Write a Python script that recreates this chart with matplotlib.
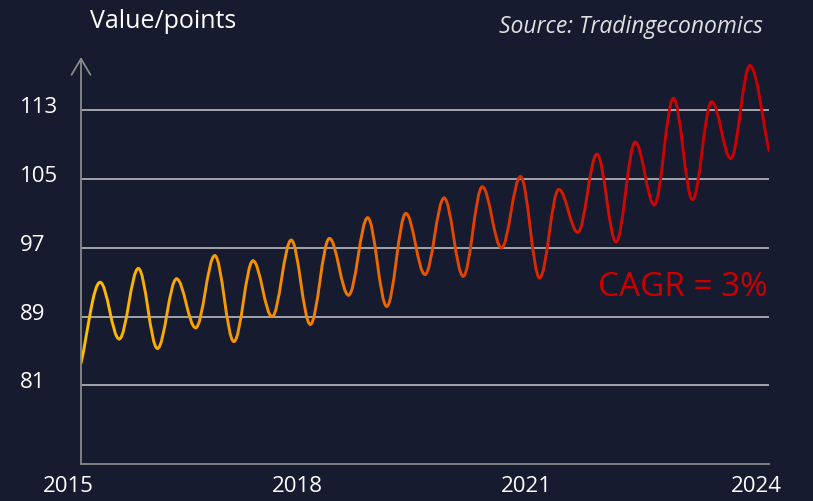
#! /usr/bin/env python

# Seasonal index 2015-2024, dark theme with a yellow-to-red gradient line

import matplotlib
matplotlib.use('Agg')
import matplotlib.pyplot as plt
import matplotlib.transforms as mtransforms
from matplotlib.colors import LinearSegmentedColormap
from matplotlib.path import Path
from matplotlib.patches import PathPatch
import pandas as pd

# Data (quarterly turning points)
dates = pd.date_range('2015-01-01', '2024-01-01', freq='3MS')
values = [83.6, 93.0, 86.4, 94.6, 85.3, 93.4, 87.7, 96.1, 86.1, 95.5,
          89.0, 97.9, 88.1, 98.1, 91.5, 100.5, 90.2, 101.0, 93.9, 102.8,
          93.7, 104.1, 97.0, 105.3, 93.5, 103.8, 98.8, 107.9, 97.7, 109.3,
          102.0, 114.4, 102.6, 114.0, 107.4, 118.2, 108.3]
y_ticks = [81, 89, 97, 105, 113]
x_ticks = [2015, 2018, 2021, 2024]

BG = '#161b2f'
GRID = '#c9c9c9'
AXIS = '#8a8a8a'
TEXT = '#ffffff'

plt.rcParams['font.family'] = ['Open Sans', 'DejaVu Sans']

cmap = LinearSegmentedColormap.from_list(
    'heat', [(0.0, '#ffbf00'), (0.33, '#f28500'), (0.5, '#e65500'),
             (0.65, '#d82a00'), (0.8, '#cc0505'), (1.0, '#cc0000')])

x = [d.year + (d.month - 1) / 12 for d in dates]

fig = plt.figure(figsize=(8.13, 5.01), dpi=100, facecolor=BG)
ax = fig.add_axes([81 / 813, 37 / 501, 688 / 813, 407 / 501])
ax.set_facecolor(BG)
ax.set_xlim(2015, 2024)
ax.set_ylim(71.86, 119.2)

# grid lines
for v in y_ticks:
    ax.axhline(v, color=GRID, lw=1.1, zorder=1)

# smooth line: one bezier piece between each pair of turning points
n = len(x)
for i in range(n - 1):
    x0, y0, x1, y1 = x[i], values[i], x[i + 1], values[i + 1]
    dx = x1 - x0
    if i == 0:
        c1 = (x0 + dx / 3, y0 + (y1 - y0) / 3)
    else:
        c1 = (x0 + 0.363 * dx, y0)
    if i == n - 2:
        c2 = (x1 - dx / 3, y1 - (y1 - y0) / 3)
    else:
        c2 = (x1 - 0.363 * dx, y1)
    path = Path([(x0, y0), c1, c2, (x1, y1)],
                [Path.MOVETO, Path.CURVE4, Path.CURVE4, Path.CURVE4])
    col = cmap(((x0 + x1) / 2 - x[0]) / (x[-1] - x[0]))
    ax.add_patch(PathPatch(path, fill=False, edgecolor=col, lw=2.1,
                           capstyle='round', joinstyle='round', zorder=3))

# axes: bottom line and y arrow
for s in ['top', 'right', 'left']:
    ax.spines[s].set_visible(False)
ax.spines['bottom'].set_color(AXIS)
ax.spines['bottom'].set_linewidth(1.3)
ax.annotate('', xy=(0, 1), xytext=(0, 0), xycoords='axes fraction',
            arrowprops=dict(arrowstyle='->,head_length=1.15,head_width=0.68',
                            color=AXIS, lw=1.3, shrinkA=0, shrinkB=0))

# ticks
ax.set_yticks(y_ticks)
ax.set_yticklabels([str(v) for v in y_ticks])
ax.set_xticks(x_ticks)
ax.set_xticklabels([str(v) for v in x_ticks])
ax.tick_params(axis='both', length=0, colors=TEXT, labelsize=16)
ax.tick_params(axis='y', pad=44)
ax.tick_params(axis='x', pad=9)
for lab in ax.get_yticklabels():
    lab.set_horizontalalignment('left')
    lab.set_transform(lab.get_transform() +
                      mtransforms.ScaledTranslation(0, 5 / 100, fig.dpi_scale_trans))
for lab in ax.get_xticklabels():
    lab.set_transform(lab.get_transform() +
                      mtransforms.ScaledTranslation(-13 / 100, 0, fig.dpi_scale_trans))

# texts
fig.text(90 / 813, 1 - 22 / 501, 'Value/points', color=TEXT, fontsize=18,
         ha='left', va='center')
fig.text(763 / 813, 1 - 27 / 501, 'Source: Tradingeconomics', color='#e0e0e0',
         fontsize=16.5, style='italic', ha='right', va='center')
fig.text(768 / 813, 1 - 287 / 501, 'CAGR = 3%', color='#cc0000', fontsize=24,
         ha='right', va='center')

fig.savefig('out.png', dpi=100, facecolor=BG)
